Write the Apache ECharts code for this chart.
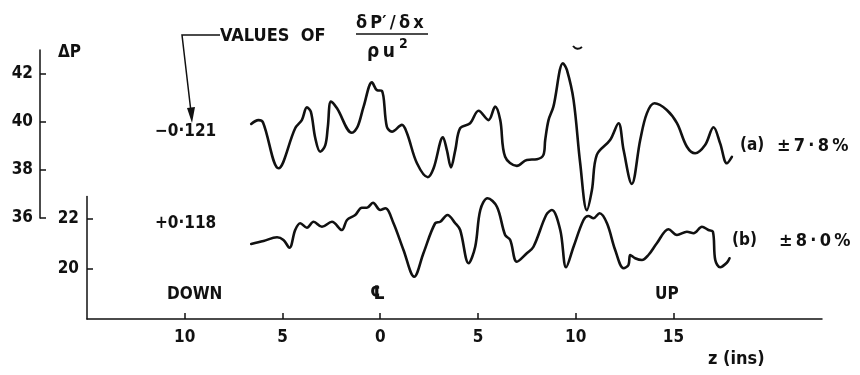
<!DOCTYPE html>
<html>
<head>
<meta charset="utf-8">
<script src="https://cdn.jsdelivr.net/npm/echarts@6/dist/echarts.min.js"></script>
<style>
  html, body { margin: 0; padding: 0; background: #fff; }
  #chart { width: 860px; height: 375px; }
</style>
</head>
<body>
<div id="chart"></div>
<script>
// Traverse position z (ins): negative = downstream side, positive = upstream side
const zTicks = [-10, -5, 0, 5, 10, 15];
const upperTicks = [36, 38, 40, 42];
const lowerTicks = [20, 22];

// Trace (a): dP'/dx / (rho u^2) = -0.121
const aZ = [-6.60, -6.23, -6.00, -5.20, -4.35, -4.01, -3.75, -3.55, -3.32, -3.07, -2.81, -2.68, -2.52, -2.21,
  -1.45, -1.16, -0.85, -0.42, -0.17, 0.09, 0.34, 0.60, 1.11, 1.37, 1.88, 2.44, 2.73, 3.21, 3.41, 3.62, 3.84,
  4.09, 4.60, 5.03, 5.54, 5.88, 6.14, 6.39, 6.99, 7.50, 8.02, 8.35, 8.44, 8.61, 8.86, 9.35, 9.55, 9.89, 10.23,
  10.57, 10.83, 11.08, 11.76, 12.19, 12.45, 12.87, 13.30, 13.64, 14.03, 14.66, 15.18, 15.69, 16.11, 16.62,
  17.05, 17.39, 17.73, 17.99];
const aDP = [39.92, 40.08, 39.99, 38.07, 39.74, 40.08, 40.61, 40.43, 39.32, 38.76, 39.04, 39.80, 40.85, 40.57,
  39.55, 39.80, 40.64, 41.65, 41.33, 41.30, 39.80, 39.60, 39.88, 39.53, 38.28, 37.70, 38.07, 39.36, 38.83, 38.11,
  38.83, 39.74, 39.95, 40.47, 40.08, 40.64, 40.08, 38.55, 38.17, 38.42, 38.45, 38.63, 39.25, 40.08, 40.64, 42.45,
  42.17, 40.92, 38.28, 36.33, 37.17, 38.63, 39.25, 39.95, 38.83, 37.42, 39.25, 40.36, 40.78, 40.50, 39.95, 38.97,
  38.70, 39.04, 39.78, 39.11, 38.28, 38.55];

// Trace (b): dP'/dx / (rho u^2) = +0.118
const bZ = [-6.60, -5.97, -5.28, -4.95, -4.64, -4.35, -4.09, -3.75, -3.41, -2.98, -2.47, -1.96, -1.70, -1.28,
  -0.94, -0.68, -0.37, 0.00, 0.26, 0.68, 1.19, 1.74, 2.21, 2.81, 3.07, 3.44, 3.84, 4.09, 4.52, 4.86, 5.12, 5.49,
  5.97, 6.39, 6.65, 6.99, 7.50, 7.84, 8.49, 8.78, 9.21, 9.51, 9.89, 10.40, 10.65, 10.91, 11.22, 11.60, 12.02,
  12.45, 12.70, 12.79, 13.04, 13.39, 13.72, 14.15, 14.75, 15.18, 15.69, 16.03, 16.46, 16.79, 17.02, 17.14, 17.39,
  17.73, 17.87];
const bDP = [21.00, 21.12, 21.27, 21.16, 20.85, 21.56, 21.83, 21.65, 21.89, 21.69, 21.89, 21.56, 21.96, 22.16,
  22.45, 22.45, 22.65, 22.36, 22.43, 21.83, 20.76, 19.69, 20.63, 21.83, 21.89, 22.16, 21.83, 21.56, 20.23, 20.89,
  22.36, 22.83, 22.49, 21.36, 21.16, 20.29, 20.63, 20.89, 22.16, 22.36, 21.56, 20.07, 20.89, 21.96, 22.12, 22.03,
  22.23, 21.83, 20.76, 20.03, 20.16, 20.56, 20.43, 20.36, 20.56, 21.03, 21.59, 21.36, 21.49, 21.43, 21.69, 21.56,
  21.49, 20.36, 20.07, 20.25, 20.43];

const FONT = 'DejaVu Sans Condensed';
const INK = '#111';
const TS = '\u2009'; // thin space used for the wide lettering

const pairs = (xs, ys) => xs.map((x, i) => [x, ys[i]]);
const font = (size) => 'bold ' + size + 'px "' + FONT + '"';
const label = (text, left, top, size) => ({ type: 'text', left, top, style: { text, fill: INK, font: font(size || 17) } });

const labelStyle = { color: INK, fontFamily: FONT, fontWeight: 'bold', fontSize: 17 };

const chart = echarts.init(document.getElementById('chart'), null, { renderer: 'canvas' });

const xBase = {
  type: 'value', min: -15, max: 22.6,
  splitLine: { show: false }
};

chart.setOption({
  animation: false,
  backgroundColor: '#fff',
  grid: [
    { left: 87, right: 38, top: 50, height: 168 },
    { left: 87, right: 38, top: 196.5, height: 122.5 }
  ],
  xAxis: [
    Object.assign({}, xBase, { gridIndex: 0, show: false }),
    Object.assign({}, xBase, {
      gridIndex: 1,
      axisLine: { show: true, lineStyle: { color: INK, width: 1.5 } },
      axisTick: { show: true, inside: true, length: 6, customValues: zTicks, lineStyle: { color: INK, width: 1.5 } },
      axisLabel: Object.assign({ customValues: zTicks, margin: 10, formatter: v => String(Math.abs(v)) }, labelStyle)
    })
  ],
  yAxis: [
    {
      type: 'value', gridIndex: 0, min: 36, max: 43, offset: 47,
      splitLine: { show: false },
      axisLine: { show: true, onZero: false, lineStyle: { color: INK, width: 1.5 } },
      axisTick: { show: true, inside: true, length: 6, customValues: upperTicks, lineStyle: { color: INK, width: 1.5 } },
      axisLabel: Object.assign({ customValues: upperTicks, margin: 7 }, labelStyle)
    },
    {
      type: 'value', gridIndex: 1, min: 18, max: 22.9,
      splitLine: { show: false },
      axisLine: { show: true, onZero: false, lineStyle: { color: INK, width: 1.5 } },
      axisTick: { show: true, inside: true, length: 6, customValues: lowerTicks, lineStyle: { color: INK, width: 1.5 } },
      axisLabel: Object.assign({ customValues: lowerTicks, margin: 8 }, labelStyle)
    }
  ],
  series: [
    {
      name: '(a)', type: 'line', xAxisIndex: 0, yAxisIndex: 0,
      data: pairs(aZ, aDP), showSymbol: false, smooth: 0.35,
      lineStyle: { color: INK, width: 2.6, join: 'round', cap: 'round' }
    },
    {
      name: '(b)', type: 'line', xAxisIndex: 1, yAxisIndex: 1,
      data: pairs(bZ, bDP), showSymbol: false, smooth: 0.35,
      lineStyle: { color: INK, width: 2.6, join: 'round', cap: 'round' }
    }
  ],
  graphic: [
    // axis name
    label('ΔP', 58, 44, 17),
    // heading with leader arrow
    label('VALUES  OF', 220, 27, 18),
    { type: 'polyline', shape: { points: [[220, 35], [182, 35], [191, 112]] }, style: { stroke: INK, lineWidth: 1.5, fill: null } },
    { type: 'polygon', shape: { points: [[187, 108], [195, 107], [192, 123]] }, style: { fill: INK } },
    label('δ' + TS + 'P′' + TS + '/' + TS + 'δ' + TS + 'x', 356, 14, 18),
    { type: 'line', shape: { x1: 356, y1: 34, x2: 428, y2: 34 }, style: { stroke: INK, lineWidth: 1.5 } },
    label('ρ' + TS + 'u', 367, 43, 19),
    label('2', 399, 37, 14),
    // small stray mark above the main peak
    { type: 'bezierCurve', shape: { x1: 573, y1: 46, cpx1: 577, cpy1: 51, x2: 582, y2: 47 }, style: { stroke: INK, lineWidth: 2, fill: null } },
    // gradient values for each trace
    label('−0·121', 155, 123, 17),
    label('+0·118', 155, 215, 17),
    // trace tags
    label('(a)', 740, 137, 17),
    label('±' + TS + '7' + TS + '·' + TS + '8' + TS + '%', 777, 137, 18),
    label('(b)', 732, 232, 17),
    label('±' + TS + '8' + TS + '·' + TS + '0' + TS + '%', 779, 232, 18),
    // direction markers
    label('DOWN', 167, 286, 17),
    label('℄', 370, 285, 19),
    label('UP', 655, 286, 17),
    // x-axis name
    label('z (ins)', 708, 350, 18)
  ]
});
</script>
</body>
</html>
